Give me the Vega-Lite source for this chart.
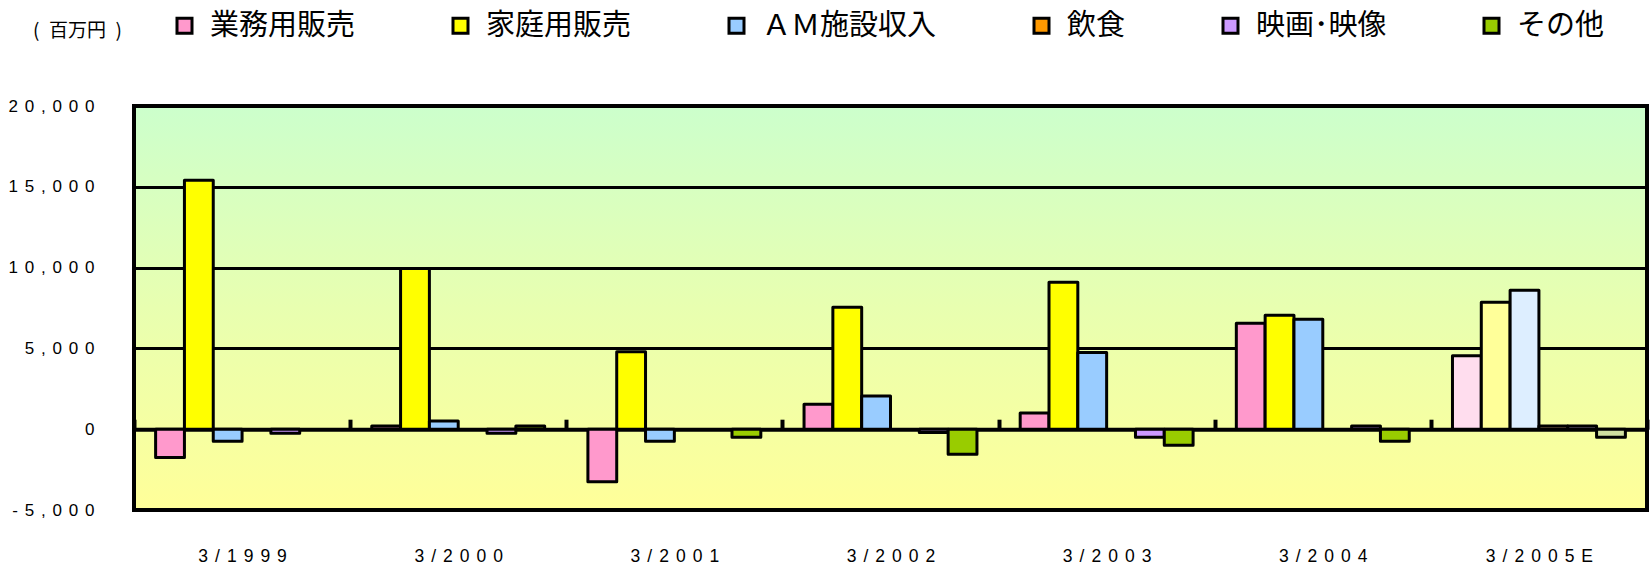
{
  "$schema": "https://vega.github.io/schema/vega-lite/v6.json",
  "width": 1513,
  "height": 404,
  "autosize": {"type": "none"},
  "padding": {"left": 134, "top": 106, "right": 3, "bottom": 57},
  "background": "white",
  "config": {
    "view": {
      "fill": {"gradient": "linear", "x1": 0, "y1": 0, "x2": 0, "y2": 1,
        "stops": [{"offset": 0, "color": "#ccffcc"}, {"offset": 0.5, "color": "#e8ffb0"}, {"offset": 1, "color": "#ffff99"}]},
      "stroke": "black",
      "strokeWidth": 4
    },
    "font": "Liberation Sans"
  },
  "data": {
    "values": [
      {"period": "3/1999", "series": "業務用販売", "value": -1750},
      {"period": "3/1999", "series": "家庭用販売", "value": 15400},
      {"period": "3/1999", "series": "ＡＭ施設収入", "value": -750},
      {"period": "3/1999", "series": "映画･映像", "value": -250},
      {"period": "3/2000", "series": "業務用販売", "value": 200},
      {"period": "3/2000", "series": "家庭用販売", "value": 9950},
      {"period": "3/2000", "series": "ＡＭ施設収入", "value": 500},
      {"period": "3/2000", "series": "映画･映像", "value": -250},
      {"period": "3/2000", "series": "その他", "value": 200},
      {"period": "3/2001", "series": "業務用販売", "value": -3250},
      {"period": "3/2001", "series": "家庭用販売", "value": 4800},
      {"period": "3/2001", "series": "ＡＭ施設収入", "value": -750},
      {"period": "3/2001", "series": "その他", "value": -500},
      {"period": "3/2002", "series": "業務用販売", "value": 1550},
      {"period": "3/2002", "series": "家庭用販売", "value": 7550},
      {"period": "3/2002", "series": "ＡＭ施設収入", "value": 2050},
      {"period": "3/2002", "series": "映画･映像", "value": -200},
      {"period": "3/2002", "series": "その他", "value": -1550},
      {"period": "3/2003", "series": "業務用販売", "value": 1000},
      {"period": "3/2003", "series": "家庭用販売", "value": 9100},
      {"period": "3/2003", "series": "ＡＭ施設収入", "value": 4750},
      {"period": "3/2003", "series": "映画･映像", "value": -500},
      {"period": "3/2003", "series": "その他", "value": -1000},
      {"period": "3/2004", "series": "業務用販売", "value": 6550},
      {"period": "3/2004", "series": "家庭用販売", "value": 7050},
      {"period": "3/2004", "series": "ＡＭ施設収入", "value": 6800},
      {"period": "3/2004", "series": "映画･映像", "value": 200},
      {"period": "3/2004", "series": "その他", "value": -750},
      {"period": "3/2005E", "series": "業務用販売", "value": 4550},
      {"period": "3/2005E", "series": "家庭用販売", "value": 7850},
      {"period": "3/2005E", "series": "ＡＭ施設収入", "value": 8600},
      {"period": "3/2005E", "series": "飲食", "value": 200},
      {"period": "3/2005E", "series": "映画･映像", "value": 200},
      {"period": "3/2005E", "series": "その他", "value": -500}
    ]
  },
  "encoding": {
    "x": {
      "field": "period", "type": "nominal",
      "sort": ["3/1999", "3/2000", "3/2001", "3/2002", "3/2003", "3/2004", "3/2005E"],
      "scale": {"paddingInner": 0, "paddingOuter": 0},
      "axis": {
        "title": null, "orient": "bottom", "offset": -80.8,
        "domain": true, "domainColor": "black", "domainWidth": 4,
        "ticks": true, "tickBand": "extent", "tickSize": -10, "tickWidth": 4, "tickColor": "black",
        "grid": false,
        "labelAngle": 0, "labelPadding": 128, "labelBaseline": "top",
        "labelFont": "Liberation Sans", "labelFontSize": 17.5, "labelColor": "black",
        "labelExpr": "replace(datum.label, regexp('(.)(?=.)', 'g'), '$1\u2009\u2009')"
      }
    },
    "xOffset": {
      "field": "series", "type": "nominal",
      "scale": {"domain": ["業務用販売", "家庭用販売", "ＡＭ施設収入", "飲食", "映画･映像", "その他"], "paddingInner": 0, "paddingOuter": 0.75}
    },
    "y": {
      "field": "value", "type": "quantitative",
      "scale": {"domain": [-5000, 20000], "nice": false},
      "axis": {
        "title": "(\u2002百万円\u2002)", "titleAngle": 0, "titleX": -57, "titleY": -76,
        "titleAlign": "center", "titleBaseline": "middle",
        "titleFont": "Noto Sans CJK JP", "titleFontSize": 19, "titleFontWeight": "normal", "titleColor": "black",
        "values": [-5000, 0, 5000, 10000, 15000, 20000],
        "labelExpr": "replace(replace(format(datum.value, ','), '\u2212', '-'), regexp('(.)(?=.)', 'g'), '$1\u2009\u2009')",
        "labelFont": "Liberation Sans", "labelFontSize": 17, "labelColor": "black", "labelPadding": 40,
        "ticks": false, "domain": false,
        "grid": true, "gridColor": "black", "gridWidth": 3, "gridOpacity": 1
      }
    }
  },
  "layer": [
    {
      "transform": [{"filter": "datum.period !== '3/2005E'"}],
      "mark": {"type": "bar", "stroke": "black", "strokeWidth": 3, "strokeJoin": "round"},
      "encoding": {
        "color": {
          "field": "series", "type": "nominal",
          "scale": {
            "domain": ["業務用販売", "家庭用販売", "ＡＭ施設収入", "飲食", "映画･映像", "その他"],
            "range": ["#ff99cc", "#ffff00", "#99ccff", "#ff9900", "#cc99ff", "#99cc00"]
          },
          "legend": {
            "title": null, "orient": "none", "legendX": 36, "legendY": -95,
            "direction": "horizontal", "padding": 0, "columnPadding": 90,
            "symbolType": "square", "symbolSize": 225,
            "symbolStrokeColor": "black", "symbolStrokeWidth": 3, "symbolOpacity": 1,
            "labelFont": "Noto Sans CJK JP", "labelFontSize": 29, "labelColor": "black",
            "labelOffset": 11, "labelLimit": 400, "labelBaseline": "middle"
          }
        }
      }
    },
    {
      "transform": [{"filter": "datum.period === '3/2005E'"}],
      "mark": {"type": "bar", "stroke": "black", "strokeWidth": 3, "strokeJoin": "round"},
      "encoding": {
        "fill": {
          "field": "series", "type": "nominal",
          "scale": {
            "domain": ["業務用販売", "家庭用販売", "ＡＭ施設収入", "飲食", "映画･映像", "その他"],
            "range": ["#ffddee", "#ffff99", "#ddeeff", "#ffcc99", "#e5ccff", "#d0e0a0"]
          },
          "legend": null
        }
      }
    }
  ]
}
